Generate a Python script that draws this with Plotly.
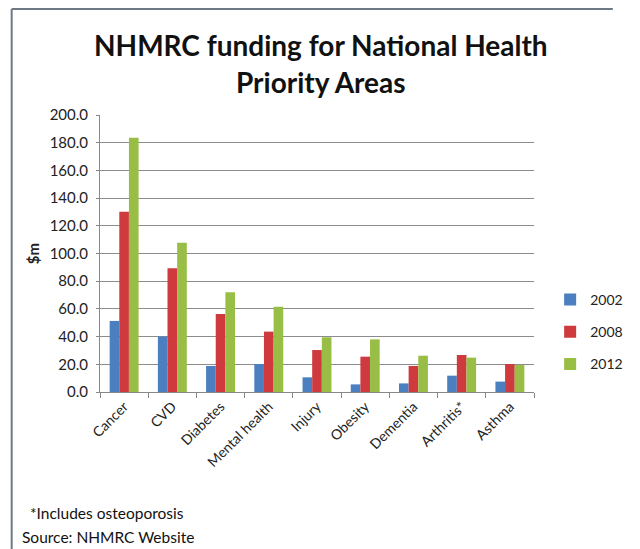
import plotly.graph_objects as go

categories = ["Cancer", "CVD", "Diabetes", "Mental health", "Injury",
              "Obesity", "Dementia", "Arthritis*", "Asthma"]
years = ["2002", "2008", "2012"]
v2002 = [51.3, 40.0, 18.8, 20.2, 10.6, 5.5, 6.2, 11.8, 7.5]
v2008 = [130.2, 89.3, 56.3, 43.6, 30.3, 25.5, 18.8, 26.7, 20.2]
v2012 = [183.6, 107.8, 72.0, 61.6, 39.5, 38.0, 26.2, 24.8, 19.5]
series = [v2002, v2008, v2012]
colors = ["#4B7FC0", "#CF3A3E", "#98BE45"]
y_ticks = [0, 20, 40, 60, 80, 100, 120, 140, 160, 180, 200]
title_lines = ["NHMRC funding for National Health", "Priority Areas"]
footnotes = ["*Includes osteoporosis", "Source: NHMRC Website"]

font = "Lato, 'Open Sans', sans-serif"

# plot area in pixels: x 100..557, y 115..392
PL, PR, PT, PB = 100, 557, 115, 392
PW, PH = PR - PL, PB - PT


def px(x):
    return (x - PL) / PW


def py(y):
    return (PB - y) / PH


fig = go.Figure()
for name, vals, col in zip(years, series, colors):
    fig.add_trace(go.Bar(x=categories, y=vals, name=name, legendgroup=name,
                         marker=dict(color=col, line=dict(width=0))))

annotations = [
    dict(text=f"<b>{title_lines[0]}</b>", xref="paper", yref="paper",
         x=px(333), y=py(45), xanchor="center", yanchor="middle",
         showarrow=False, font=dict(family=font, size=28, color="#111")),
    dict(text=f"<b>{title_lines[1]}</b>", xref="paper", yref="paper",
         x=px(333), y=py(82), xanchor="center", yanchor="middle",
         showarrow=False, font=dict(family=font, size=28, color="#111")),
    dict(text=footnotes[0], xref="paper", yref="paper",
         x=px(24), y=py(513), xanchor="left", yanchor="middle",
         showarrow=False, font=dict(size=15.5, color="#111")),
    dict(text=footnotes[1], xref="paper", yref="paper",
         x=px(16), y=py(537), xanchor="left", yanchor="middle",
         showarrow=False, font=dict(size=15.5, color="#111")),
]

border = dict(color="#6f7986", width=2)
fig.update_layout(
    width=640, height=549,
    margin=dict(l=PL, r=640 - PR, t=PT, b=549 - PB),
    paper_bgcolor="white", plot_bgcolor="white",
    barmode="group", bargap=0.4, bargroupgap=0,
    font=dict(family=font, size=14, color="#222"),
    legend=dict(x=px(574), y=py(284), xanchor="left", yanchor="top",
                tracegroupgap=11, font=dict(size=14, color="#222"),
                itemwidth=30, bgcolor="rgba(0,0,0,0)"),
    xaxis=dict(tickangle=-45, showgrid=False, showline=True,
               linecolor="#888", linewidth=1, ticks="outside",
               tickson="boundaries", ticklen=5, tickcolor="#888",
               tickfont=dict(size=14, color="#222")),
    yaxis=dict(range=[0, 200], tickvals=y_ticks,
               ticktext=[f"{t:.1f}" for t in y_ticks],
               showgrid=True, gridcolor="#8c8c8c", gridwidth=1,
               showline=True, linecolor="#888", ticks="outside",
               ticklen=3, tickcolor="#888", ticklabelstandoff=5,
               tickfont=dict(size=15, color="#222"),
               title=dict(text="<b>$m</b>", font=dict(size=15, color="#222"),
                          standoff=6),
               zeroline=False),
    shapes=[
        dict(type="line", xref="paper", yref="paper",
             x0=px(7), x1=px(7), y0=py(549), y1=py(9), line=border),
        dict(type="line", xref="paper", yref="paper",
             x0=px(7), x1=px(640), y0=py(9), y1=py(9), line=border),
    ],
    annotations=annotations,
)

fig.write_html("out.html")
